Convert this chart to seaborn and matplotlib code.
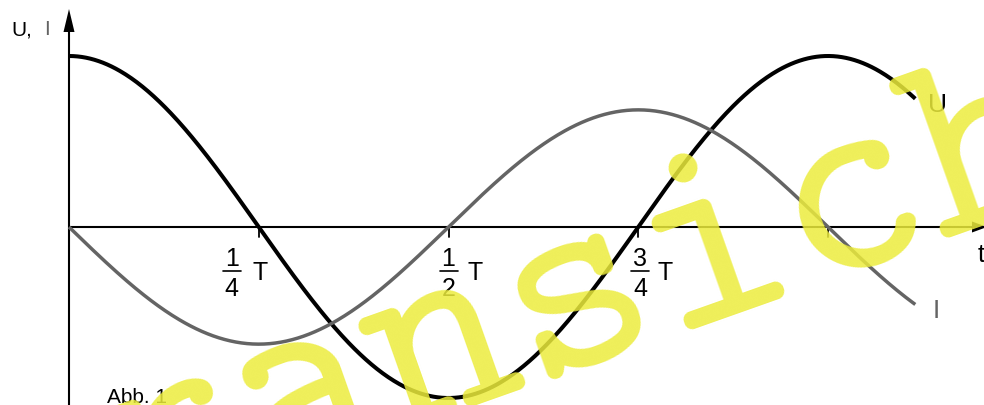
import numpy as np
import pandas as pd
import matplotlib
matplotlib.use("Agg")
import matplotlib.pyplot as plt
import seaborn as sns

# Signal parameters, time measured in periods T
series_names = ["U", "I"]
amplitudes = [1.0, 0.685]          # peak values (U peak = 1)
phase_periods = [0.0, 0.25]        # U = cos(wt), I = cos(wt + pi/2) = -sin(wt)
series_colors = ["#000000", "#646464"]
series_widths = [2.9, 2.5]
t_end = 1.115                      # curves stop a little after one period

# Time-axis ticks and their fraction labels
tick_values = [0.25, 0.5, 0.75, 1.0]
tick_numerators = ["1", "1", "3", ""]
tick_denominators = ["4", "2", "4", ""]

# Pixel geometry of the drawing (origin and scale)
W, H = 984, 406
X0, Y0 = 69, 228          # origin in pixels
PX_T, PX_U = 759, 171     # pixels per period / per unit of U


def to_data(px, py):
    return (px - X0) / PX_T, (Y0 - py) / PX_U


sns.set_theme(style="white")
plt.rcParams["font.family"] = ["Liberation Sans", "DejaVu Sans"]

fig = plt.figure(figsize=(W / 100, H / 100), dpi=100)
ax = fig.add_axes([0, 0, 1, 1])
ax.set_axis_off()
x_lo, y_hi = to_data(0, 0)
x_hi, y_lo = to_data(W, H)
ax.set_xlim(x_lo, x_hi)
ax.set_ylim(y_lo, y_hi)

# Curves
t = np.linspace(0.0, t_end, 600)
frames = []
for name, amp, ph in zip(series_names, amplitudes, phase_periods):
    frames.append(pd.DataFrame({"t": t,
                                "value": amp * np.cos(2 * np.pi * (t + ph)),
                                "series": name}))
df = pd.concat(frames, ignore_index=True)

for name, col, lw in zip(series_names, series_colors, series_widths):
    sub = df[df["series"] == name]
    sns.lineplot(data=sub, x="t", y="value", color=col, linewidth=lw,
                 estimator=None, sort=False, ax=ax, zorder=3,
                 solid_capstyle="butt")

# Axes with arrow heads
ax_lw = 1.5
vx, vy_tip = to_data(X0, 10)
_, vy_base = to_data(X0, 33)
ax.plot([0, 0], [y_lo - 0.1, vy_base], color="black", lw=ax_lw, zorder=2,
        solid_capstyle="butt")
hw_x = 5.5 / PX_T
ax.fill([-hw_x, hw_x, 0], [vy_base, vy_base, vy_tip], color="black", lw=0,
        zorder=2)

hx_base, _ = to_data(972, Y0)
hx_tip, _ = to_data(987, Y0)
ax.plot([0, hx_base], [0, 0], color="black", lw=ax_lw, zorder=2,
        solid_capstyle="butt")
hw_y = 5.5 / PX_U
ax.fill([hx_base, hx_base, hx_tip], [-hw_y, hw_y, 0], color="black", lw=0,
        zorder=2)

# Ticks below the time axis
tick_len = 10 / PX_U
for tv in tick_values:
    ax.plot([tv, tv], [0, -tick_len], color="black", lw=1.3, zorder=2)

# Fraction labels: numerator, bar, denominator, then "T"
frac_dx = [-27, 0, 2]
T_dx = [1, 27, 27]
fs = 18
for tv, num, den, fdx, tdx in zip(tick_values, tick_numerators,
                                  tick_denominators, frac_dx, T_dx):
    if not num:
        continue
    fx = tv + fdx / PX_T
    ax.text(fx, -31 / PX_U, num, ha="center", va="center", fontsize=fs,
            color="black")
    ax.text(fx, -60.5 / PX_U, den, ha="center", va="center", fontsize=fs,
            color="black")
    bar_half = 9 / PX_T
    ax.plot([fx - bar_half, fx + bar_half], [-44 / PX_U, -44 / PX_U],
            color="black", lw=1.2)
    ax.text(tv + tdx / PX_T, -44.5 / PX_U, "T", ha="center", va="center",
            fontsize=fs, color="black")

# Axis and curve names
lbl = dict(ha="left", va="baseline", fontsize=15)
ax.text(*to_data(11, 35), "U,", color="black", **lbl)
ax.text(*to_data(44, 35), "I", color="#646464", **lbl)
ax.text(*to_data(978, 262), "t", ha="left", va="baseline", fontsize=18,
        color="black")
ax.text(*to_data(937, 105), "U", ha="center", va="center", fontsize=19,
        color="black")
ax.text(*to_data(936, 311), "I", ha="center", va="center", fontsize=19,
        color="#646464")
ax.text(*to_data(107, 403), "Abb. 1", ha="left", va="baseline", fontsize=15,
        color="black")

# Preview watermark in a typewriter face
fig.text(531 / W, 1 - 383 / H, "Voransicht", fontsize=199,
         family=["cmtt10", "DejaVu Sans Mono"], rotation=19.5,
         rotation_mode="anchor", ha="center", va="baseline",
         color="#ECEC3C", alpha=0.85, zorder=10)

fig.savefig("out.png", dpi=100)
